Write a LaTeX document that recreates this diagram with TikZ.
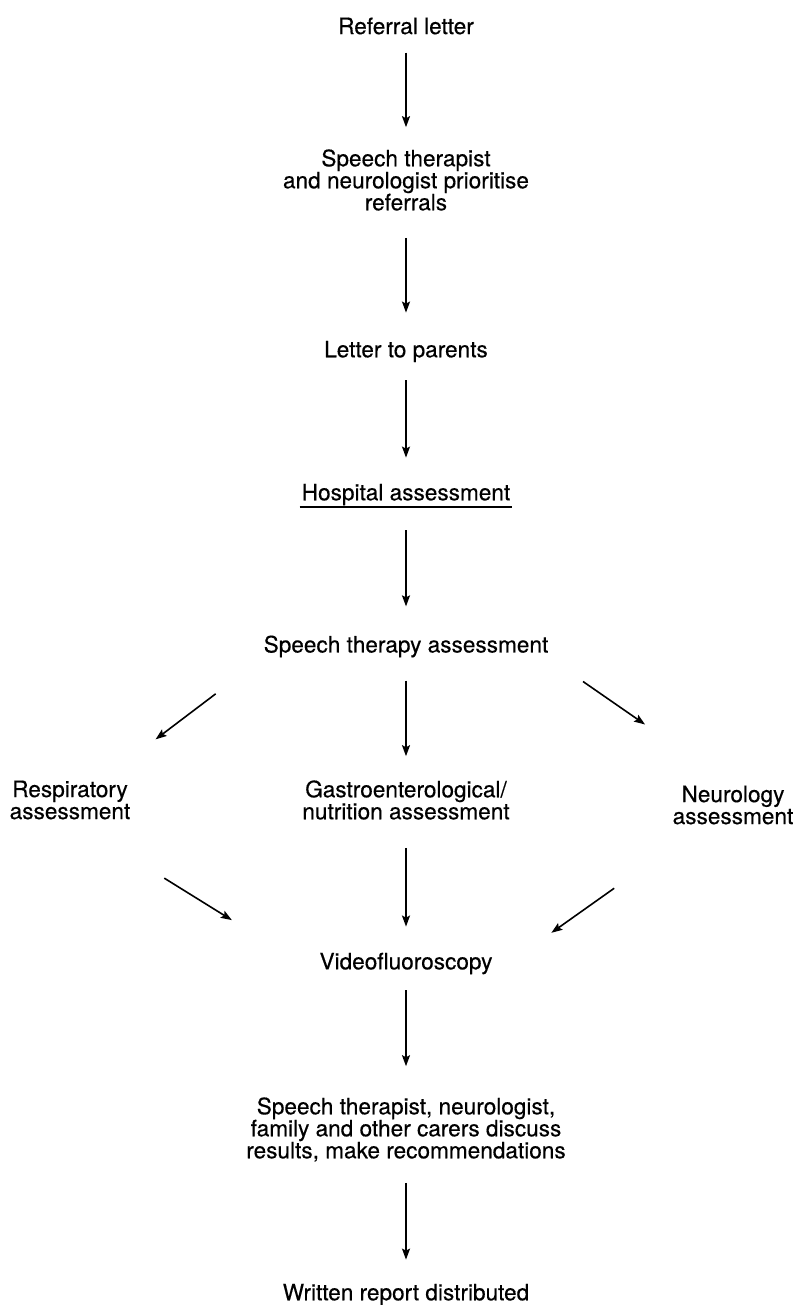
\documentclass[tikz,border=0pt]{standalone}
\usepackage{fontspec}
\setmainfont[FakeBold=0.4]{TeX Gyre Heros}
\usetikzlibrary{arrows.meta}
\tikzset{
  box/.style={inner sep=0pt, align=center, font=\fontsize{22.6}{22}\selectfont},
  flow/.style={-{Stealth[length=11pt,width=8pt,inset=2pt]}, line width=1.6pt}
}
\begin{document}
\begin{tikzpicture}[x=1pt,y=-1pt]
\useasboundingbox (0,0) rectangle (794,1305);
% main column
\node[box] (ref)  at (406,26)    {Referral letter};
\node[box] (prio) at (406,180)   {Speech therapist\\and neurologist prioritise\\referrals};
\node[box] (par)  at (406,351.5) {Letter to parents};
\node[box] (hosp) at (406,494.5) {Hospital assessment};
\node[box] (sta)  at (406,646.5) {Speech therapy assessment};
% three assessments
\node[box] (resp) at (70,800)    {Respiratory\\assessment};
\node[box] (gast) at (406,800)   {Gastroenterological/\\nutrition assessment};
\node[box] (neur) at (733,805)   {Neurology\\assessment};
\node[box] (vid)  at (406,963.5) {Videofluoroscopy};
\node[box] (disc) at (406,1129.5) {Speech therapist, neurologist,\\family and other carers discuss\\results, make recommendations};
\node[box] (rep)  at (406,1294.5) {Written report distributed};
% underline
\draw[line width=1.3pt] ([xshift=-2pt,yshift=-1.5pt]hosp.south west) -- ([xshift=2pt,yshift=-1.5pt]hosp.south east);
% arrows
\draw[flow, shorten <=18pt, shorten >=22pt] (ref) -- (prio);
\draw[flow, shorten <=27pt, shorten >=28pt] (prio) -- (par);
\draw[flow, shorten <=18pt, shorten >=26pt] (par) -- (hosp);
\draw[flow, shorten <=25pt, shorten >=29pt] (hosp) -- (sta);
\draw[flow, shorten <=60pt, shorten >=68pt] (sta.south west) -- (resp.32);
\draw[flow, shorten <=23pt, shorten >=24pt] (sta) -- (gast);
\draw[flow, shorten <=42pt, shorten >=107pt] (sta.south east) -- (neur.north);
\draw[flow, shorten <=111pt, shorten >=103pt] (resp.south) -- (vid.south west);
\draw[flow, shorten <=28pt, shorten >=26pt] (gast) -- (vid);
\draw[flow, shorten <=110pt, shorten >=72pt] (neur.214) -- (vid.south east);
\draw[flow, shorten <=16pt, shorten >=31pt] (vid) -- (disc);
\draw[flow, shorten <=21pt, shorten >=24pt] (disc) -- (rep);
\end{tikzpicture}
\end{document}
